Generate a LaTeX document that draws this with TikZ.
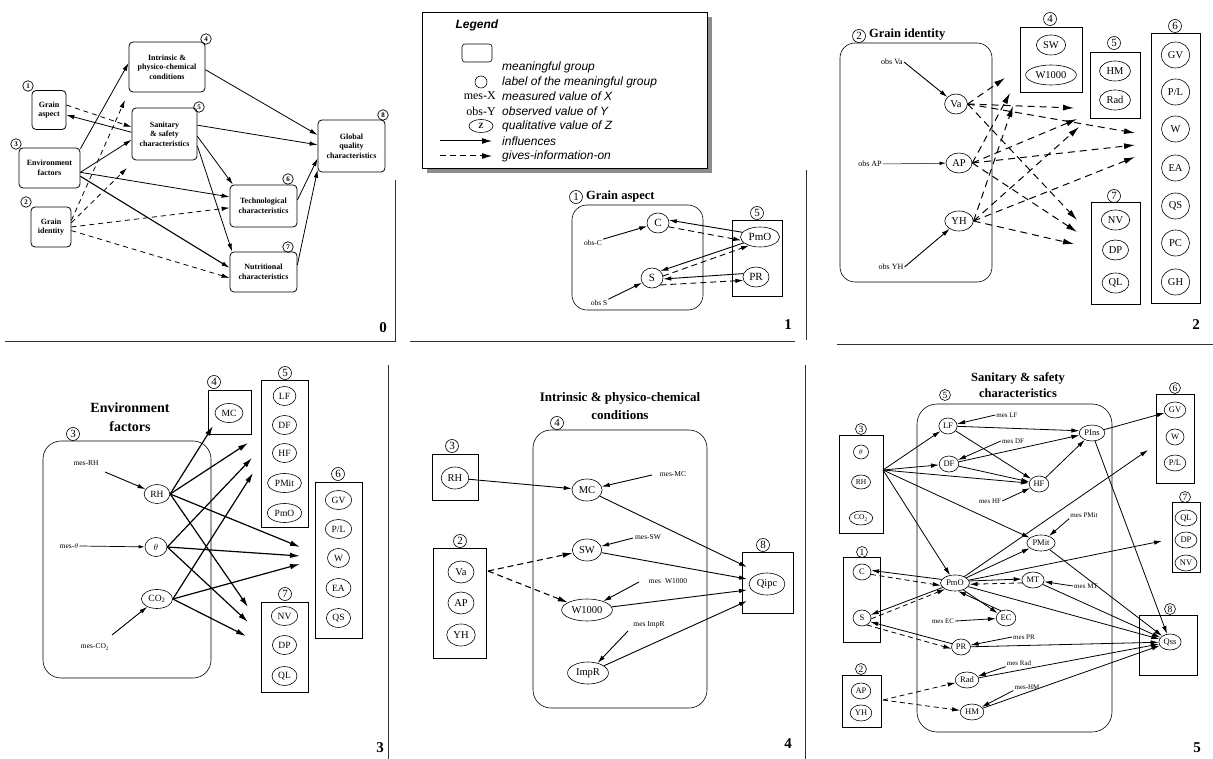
\documentclass[tikz,border=0pt]{standalone}
\usepackage{fontspec}
\setmainfont{Liberation Serif}
\newfontfamily\legfont{Liberation Sans}
\usetikzlibrary{shapes.geometric,arrows.meta,calc}
\tikzset{
  sep/.style={line width=1pt, black!80},
  pno/.style={font=\bfseries\fontsize{15}{15}\selectfont, inner sep=0pt},
  grp/.style={draw, line width=0.6pt, rounded corners=15pt, inner sep=0pt},
  bx/.style={draw, line width=0.6pt, inner sep=0pt},
  num/.style={circle, draw, line width=0.6pt, inner sep=0pt, minimum size=13pt, font=\fontsize{11}{11}\selectfont},
  snum/.style={num, minimum size=11pt, font=\fontsize{9.5}{10}\selectfont},
  val/.style={ellipse, draw, line width=0.6pt, inner xsep=2.5pt, inner ysep=0.5pt},
  v1/.style={val, minimum height=20pt, minimum width=22pt, font=\fontsize{11}{12}\selectfont},
  v2/.style={val, minimum height=20pt, minimum width=22pt, font=\fontsize{10.5}{11}\selectfont},
  v2b/.style={v2, minimum height=26pt, minimum width=28pt},
  v3/.style={val, minimum height=19pt, minimum width=22pt, font=\fontsize{9.5}{10}\selectfont},
  v4/.style={val, minimum height=22pt, minimum width=26pt, font=\fontsize{10.5}{11}\selectfont},
  v5/.style={val, minimum height=16pt, minimum width=18pt, font=\fontsize{8.5}{9}\selectfont, inner xsep=1.5pt},
  v5s/.style={v5, minimum height=14pt, minimum width=15pt, font=\fontsize{7.5}{8}\selectfont},
  mes/.style={font=\fontsize{7.5}{8}\selectfont, inner sep=1pt},
  ttl/.style={font=\bfseries\fontsize{12.5}{16}\selectfont, align=center, inner sep=0pt},
  p0box/.style={draw, rounded corners=4pt, line width=0.8pt, align=center, font=\bfseries\fontsize{8}{9.5}\selectfont, inner sep=0pt},
  p0num/.style={circle, draw, line width=0.7pt, inner sep=0pt, minimum size=10.5pt, font=\bfseries\fontsize{7}{7}\selectfont},
  inf/.style={line width=0.9pt, -{Latex[length=8pt,width=4.5pt]}},
  info/.style={inf, dash pattern=on 6pt off 4pt},
  inf0/.style={line width=0.8pt, -{Latex[length=8pt,width=4.5pt]}},
  info0/.style={inf0, dash pattern=on 5pt off 4pt},
  inf2/.style={line width=1pt, dash pattern=on 7pt off 5pt, -{Latex[length=11pt,width=6pt]}},
  inf3/.style={line width=1.2pt, -{Latex[length=10pt,width=5.5pt]}},
  inf5/.style={line width=0.8pt, -{Latex[length=8pt,width=4.5pt]}},
  info5/.style={inf5, dash pattern=on 5pt off 3.5pt},
  thin/.style={line width=0.5pt, -{Latex[length=6pt,width=3.5pt]}},
}
\begin{document}
\begin{tikzpicture}[x=1pt,y=-1pt]
\useasboundingbox (0,0) rectangle (1213,759);
\fill[white] (0,0) rectangle (1213,759);

% ---------- frame lines and panel numbers ----------
\draw[sep] (5,342) -- (395,342);
\draw[sep] (395,180) -- (395,342);
\draw[sep] (410,342) -- (795,342);
\draw[sep] (806,170) -- (806,340);
\draw[sep] (837,345) -- (1213,345);
\draw[sep] (388,365) -- (388,759);
\draw[sep] (805,365) -- (805,759);
\node[pno] (no0) at (383,328) {0};
\node[pno] (no1) at (788,325) {1};
\node[pno] (no2) at (1196,325) {2};
\node[pno] (no3) at (380,748) {3};
\node[pno] (no4) at (788,744) {4};
\node[pno] (no5) at (1197,748) {5};

% ---------- overview of the meaningful groups ----------
\node[p0box, minimum width=34pt, minimum height=39pt] (ga) at (49,110) {Grain\\aspect};
\node[p0box, minimum width=61pt, minimum height=40pt] (ef) at (49.5,168) {Environment\\factors};
\node[p0box, minimum width=40pt, minimum height=40pt] (gi) at (51,227) {Grain\\identity};
\node[p0box, minimum width=76pt, minimum height=50pt] (ipc) at (167,67) {Intrinsic \&\\physico-chemical\\conditions};
\node[p0box, minimum width=65pt, minimum height=52pt] (ss) at (164.5,134) {Sanitary\\\& safety\\characteristics};
\node[p0box, minimum width=67pt, minimum height=42pt] (tc) at (263.5,206) {Technological\\characteristics};
\node[p0box, minimum width=67pt, minimum height=40pt] (nc) at (263.5,272) {Nutritional\\characteristics};
\node[p0box, minimum width=67pt, minimum height=52pt] (gq) at (351.5,146) {Global\\quality\\characteristics};
\node[p0num] (g1) at (28,86) {1};
\node[p0num] (g3) at (16,144) {3};
\node[p0num] (g2) at (26,202) {2};
\node[p0num] (g4) at (206,39) {4};
\node[p0num] (g5) at (199,107) {5};
\node[p0num] (g6) at (288,179) {6};
\node[p0num] (g7) at (288,247) {7};
\node[p0num] (g8) at (383,115) {8};
\coordinate (gie1) at (125,100);
\coordinate (gie2) at (127,168);
\draw[inf0] (ef.32) -- (ipc.174);
\draw[inf0] (ef.-8) -- (ss.190);
\draw[inf0] (ss.177) -- (ga.-16);
\draw[inf0] (ef.-8) -- (tc.165);
\draw[inf0, line width=1.1pt] (ef.-15) -- (nc.173);
\draw[inf0] (ipc.-4) -- (gq.162);
\draw[inf0] (ss.15) -- (gq.178);
\draw[inf0] (ss.-4) -- (tc.145);
\draw[inf0] (ss.-20) -- (nc.147);
\draw[inf0] (tc.10) -- (gq.200);
\draw[inf0] (nc.12) -- (gq.215);
\draw[info0] (ga.16) -- (ss.168);
\draw[info0] (gi.18) -- (gie1);
\draw[info0] (gi.12) -- (gie2);
\draw[info0] (gi.0) -- (tc.183);
\draw[info0] (gi.-10) -- (nc.190);

% ---------- legend ----------
\fill[black!45] (427,17) rectangle (712,173);
\draw[fill=white, line width=0.6pt] (422,12) rectangle (707,168);
\node[anchor=west, font=\legfont\bfseries\itshape\fontsize{12}{12}\selectfont] (legt) at (452,25) {Legend};
\node[draw, rounded corners=3pt, line width=0.6pt, minimum width=30pt, minimum height=18pt] (legr) at (477,53) {};
\node[circle, draw, line width=0.6pt, minimum size=12pt, inner sep=0pt] (legc) at (481,82) {};
\node[anchor=east, font=\fontsize{12}{12}\selectfont, inner sep=0pt] (legm) at (496,96) {mes-X};
\node[anchor=east, font=\fontsize{12}{12}\selectfont, inner sep=0pt] (lego) at (496,111) {obs-Y};
\node[ellipse, draw, line width=0.6pt, minimum width=24pt, minimum height=13pt, inner sep=0pt, font=\bfseries\fontsize{8}{8}\selectfont] (legz) at (481,126) {Z};
\coordinate (lga) at (440,141);
\coordinate (lgb) at (492,141);
\coordinate (lgc) at (440,156);
\coordinate (lgd) at (492,156);
\draw[inf, line width=1pt, -{Latex[length=10pt,width=6pt]}] (lga) -- (lgb);
\draw[info, line width=1pt, -{Latex[length=10pt,width=6pt]}] (lgc) -- (lgd);
\begin{scope}[every node/.style={anchor=west, inner sep=0pt, font=\legfont\itshape\fontsize{12}{12}\selectfont}]
\node (l1) at (502,67) {meaningful group};
\node (l2) at (502,82) {label of the meaningful group};
\node (l3) at (502,96) {measured value of X};
\node (l4) at (502,111) {observed value of Y};
\node (l5) at (502,126) {qualitative value of Z};
\node (l6) at (502,141) {influences};
\node (l7) at (502,156) {gives-information-on};
\end{scope}

% ---------- 1: grain aspect ----------
\node[grp, minimum width=131pt, minimum height=105pt] (ag) at (637.5,257.5) {};
\node[num] (a1) at (576,197) {1};
\node[ttl, anchor=west] (at) at (586,196) {Grain aspect};
\node[bx, minimum width=50pt, minimum height=76pt] (ab5) at (757,258) {};
\node[num] (a5) at (757,213) {5};
\node[v1] (c1) at (658,223) {C};
\node[v1] (s1) at (652,278) {S};
\node[v1] (pmo1) at (760,237) {PmO};
\node[v1] (pr1) at (756,277) {PR};
\node[mes] (obsc) at (593,243) {obs-C};
\node[mes] (obss) at (599,303) {obs S};
\draw[inf] (obsc.north east) -- (c1);
\draw[inf] (obss.north east) -- (s1);
\draw[inf] (pmo1.165) -- (c1.15);
\draw[info] (c1.-20) -- (pmo1.190);
\draw[inf] (pmo1.200) -- (s1.40);
\draw[info] (s1.10) -- (pmo1.218);
\draw[inf] (pr1.165) -- (s1.-5);
\draw[info] (s1.-40) -- (pr1.195);

% ---------- 2: grain identity ----------
\node[grp, minimum width=152pt, minimum height=239pt] (bg) at (916,162.5) {};
\node[num] (b2) at (859,36) {2};
\node[ttl, anchor=west] (bt) at (869,35) {Grain identity};
\node[v2] (va2) at (956,104) {Va};
\node[v2] (ap2) at (959,163) {AP};
\node[v2] (yh2) at (959,221) {YH};
\node[mes, font=\fontsize{8}{9}\selectfont] (obva) at (892,62) {obs Va};
\node[mes, font=\fontsize{8}{9}\selectfont] (obap) at (870,164) {obs AP};
\node[mes, font=\fontsize{8}{9}\selectfont] (obyh) at (891,267) {obs YH};
\draw[inf] (obva.east) -- (va2);
\draw[thin] (obap.east) -- (ap2);
\draw[inf] (obyh.east) -- (yh2);
\node[bx, minimum width=62pt, minimum height=65pt] (bb4) at (1051,59.5) {};
\node[num] (b4) at (1050,19) {4};
\node[v2] (sw2) at (1051,45) {SW};
\node[v2] (w2) at (1051,75) {W1000};
\node[bx, minimum width=50pt, minimum height=66pt] (bb5) at (1115,85) {};
\node[num] (b5) at (1114,43) {5};
\node[v2] (hm2) at (1115,71) {HM};
\node[v2] (rad2) at (1115,100) {Rad};
\node[bx, minimum width=49pt, minimum height=270pt] (bb6) at (1175.5,168) {};
\node[num] (b6) at (1175,26) {6};
\node[v2b] (gv2) at (1175.5,55) {GV};
\node[v2b] (pl2) at (1175.5,92) {P/L};
\node[v2b] (ww2) at (1175.5,129) {W};
\node[v2b] (ea2) at (1175.5,168) {EA};
\node[v2b] (qs2) at (1175.5,206) {QS};
\node[v2b] (pc2) at (1175.5,243) {PC};
\node[v2b] (gh2) at (1175.5,282) {GH};
\node[bx, minimum width=49pt, minimum height=102pt] (bb7) at (1115.5,253) {};
\node[num] (b7) at (1114,196) {7};
\node[v2] (nv2) at (1115.5,220) {NV};
\node[v2] (dp2) at (1115.5,250) {DP};
\node[v2] (ql2) at (1115.5,283) {QL};
\coordinate (e4a) at (1005,78);
\coordinate (e4b) at (1010,93);
\coordinate (e4c) at (1013,106);
\coordinate (e5a) at (1074,108);
\coordinate (e5b) at (1077,119);
\coordinate (e5c) at (1079,127);
\coordinate (e6a) at (1135,133);
\coordinate (e6b) at (1135,145);
\coordinate (e6c) at (1135,157);
\coordinate (e7a) at (1077,220);
\coordinate (e7b) at (1077,232);
\coordinate (e7c) at (1074,244);
\foreach \s/\a/\b/\c/\d in {va2/e4a/e5a/e6a/e7a, ap2/e4b/e5b/e6b/e7b, yh2/e4c/e5c/e6c/e7c}{
  \draw[inf2] (\s.east) -- (\a);
  \draw[inf2] (\s.east) -- (\b);
  \draw[inf2] (\s.east) -- (\c);
  \draw[inf2] (\s.east) -- (\d);
}

% ---------- 3: environment factors ----------
\node[grp, rounded corners=18pt, minimum width=168pt, minimum height=237pt] (cg) at (127,559.5) {};
\node[num] (c3) at (73,434) {3};
\node[ttl, font=\bfseries\fontsize{14}{19}\selectfont] (ct) at (130,417) {Environment\\factors};
\node[v3] (rh3) at (157,494) {RH};
\node[v3] (th3) at (156,547) {$\theta$};
\node[v3] (co3) at (157,599) {CO\textsubscript{2}};
\node[mes] (mrh) at (86,463) {mes-RH};
\node[mes] (mth) at (69,546) {mes-$\theta$};
\node[mes] (mco) at (95,647) {mes-CO\textsubscript{2}};
\coordinate (mrhs) at (105,472);
\coordinate (mcos) at (112,635);
\draw[inf] (mrhs) -- (rh3);
\draw[thin, line width=0.7pt] (mth.east) -- (th3);
\draw[inf] (mcos) -- (co3);
\node[bx, minimum width=43pt, minimum height=44pt] (cb4) at (229.5,412) {};
\node[num] (c4) at (214,382) {4};
\node[v3] (mc3) at (229,413) {MC};
\node[bx, minimum width=47pt, minimum height=147pt] (cb5) at (284.5,453.5) {};
\node[num] (c5) at (285,373) {5};
\node[v3] (lf3) at (284.5,396) {LF};
\node[v3] (df3) at (284.5,425) {DF};
\node[v3] (hf3) at (284.5,453) {HF};
\node[v3] (pmit3) at (284.5,483) {PMit};
\node[v3] (pmo3) at (284.5,513) {PmO};
\node[bx, minimum width=47pt, minimum height=156pt] (cb6) at (338.5,560) {};
\node[num] (c6) at (338,474) {6};
\node[v3] (gv3) at (338.5,500) {GV};
\node[v3] (pl3) at (338.5,529) {P/L};
\node[v3] (w3) at (338.5,558) {W};
\node[v3] (ea3) at (338.5,588) {EA};
\node[v3] (qs3) at (338.5,618) {QS};
\node[bx, minimum width=47pt, minimum height=90pt] (cb7) at (284.5,647) {};
\node[num] (c7) at (285,594) {7};
\node[v3] (nv3) at (284.5,616) {NV};
\node[v3] (dp3) at (284.5,645) {DP};
\node[v3] (ql3) at (284.5,676) {QL};
\coordinate (f4) at (213,426);
\coordinate (f5a) at (248,443);
\coordinate (f5b) at (252,458);
\coordinate (f5c) at (253,473);
\coordinate (f6a) at (300,547);
\coordinate (f6b) at (300,556);
\coordinate (f6c) at (300,564);
\coordinate (f7a) at (248,607);
\coordinate (f7b) at (248,622);
\coordinate (f7c) at (246,636);
\draw[inf3] (rh3.east) -- (f4);
\draw[inf3] (rh3.east) -- (f5a);
\draw[inf3] (th3.east) -- (f5b);
\draw[inf3] (co3.east) -- (f5c);
\draw[inf3] (rh3.east) -- (f6a);
\draw[inf3] (th3.east) -- (f6b);
\draw[inf3] (co3.east) -- (f6c);
\draw[inf3] (rh3.east) -- (f7a);
\draw[inf3] (th3.east) -- (f7b);
\draw[inf3] (co3.east) -- (f7c);

% ---------- 4: intrinsic & physico-chemical conditions ----------
\node[grp, rounded corners=18pt, minimum width=174pt, minimum height=278pt] (dg) at (620,569) {};
\node[num] (d4) at (557,423) {4};
\node[ttl, font=\bfseries\fontsize{13}{18}\selectfont] (dt) at (620,406) {Intrinsic \& physico-chemical\\conditions};
\node[v4] (mc4) at (587,490) {MC};
\node[v4] (sw4) at (587,550) {SW};
\node[v4] (w4) at (587,610) {W1000};
\node[v4] (imp4) at (588,673) {ImpR};
\node[mes] (mmc) at (673,474) {mes-MC};
\node[mes] (msw) at (648,537) {mes-SW};
\node[mes] (mw) at (668,581) {mes\hspace{4pt}W1000};
\node[mes] (mimp) at (649,625) {mes ImpR};
\coordinate (mmcs) at (652,475);
\coordinate (msws) at (633,538);
\coordinate (mws) at (639,582);
\coordinate (mimps) at (628,631);
\draw[inf] (mmcs) -- (mc4);
\draw[inf] (msws) -- (sw4);
\draw[inf] (mws) -- (w4);
\draw[inf] (mimps) -- (imp4);
\node[bx, minimum width=46pt, minimum height=46pt] (db3) at (455,477) {};
\node[num] (d3) at (452,446) {3};
\node[v4] (rh4) at (455,478) {RH};
\node[bx, minimum width=53pt, minimum height=110pt] (db2) at (459.5,603) {};
\node[num] (d2) at (460,541) {2};
\node[v4] (va4) at (461,572) {Va};
\node[v4] (ap4) at (461,603) {AP};
\node[v4] (yh4) at (461,635) {YH};
\node[bx, minimum width=51pt, minimum height=61pt] (db8) at (767.5,582.5) {};
\node[num] (d8) at (763,545) {8};
\node[v4] (q4) at (767,584) {Qipc};
\coordinate (qa) at (747,567);
\coordinate (qb) at (747,579);
\coordinate (qc) at (747,590);
\coordinate (qd) at (747,601);
\coordinate (vao) at (488,571);
\draw[inf] (rh4) -- (mc4);
\draw[inf] (mc4) -- (qa);
\draw[inf] (sw4) -- (qb);
\draw[inf] (w4) -- (qc);
\draw[inf] (imp4) -- (qd);
\draw[info, line width=1.1pt, -{Latex[length=10pt,width=5.5pt]}] (vao) -- (sw4);
\draw[info, line width=1.1pt, -{Latex[length=10pt,width=5.5pt]}] (vao) -- (w4);

% ---------- 5: sanitary & safety characteristics ----------
\node[grp, rounded corners=20pt, minimum width=195pt, minimum height=328pt] (eg) at (1014.5,568) {};
\node[snum] (e5) at (945,395) {5};
\node[ttl, font=\bfseries\fontsize{12.5}{16}\selectfont] (et) at (1018,385) {Sanitary \& safety\\characteristics};
\node[bx, minimum width=44pt, minimum height=98pt] (eb3) at (861,484) {};
\node[snum] (e3) at (861,429) {3};
\node[v5s] (th5) at (861,452) {$\theta$};
\node[v5s] (rh5) at (861,482) {RH};
\node[v5s] (co5) at (861,518) {CO\textsubscript{2}};
\node[bx, minimum width=37pt, minimum height=85pt] (eb1) at (861.5,599.5) {};
\node[snum] (e1) at (862,552) {1};
\node[v5] (c5) at (862,572) {C};
\node[v5] (s5) at (862,618) {S};
\node[bx, minimum width=39pt, minimum height=52pt] (eb2) at (861.5,701) {};
\node[snum] (e2) at (861,669) {2};
\node[v5] (ap5) at (861,691) {AP};
\node[v5] (yh5) at (861,713) {YH};
\node[v5] (lf5) at (948,426) {LF};
\node[v5] (df5) at (949,464) {DF};
\node[v5] (hf5) at (1039,484) {HF};
\node[v5] (pins5) at (1092,433) {PIns};
\node[v5] (pmit5) at (1041,543) {PMit};
\node[v5] (pmo5) at (955,583) {PmO};
\node[v5] (mt5) at (1033,580) {MT};
\node[v5] (ec5) at (1006,618) {EC};
\node[v5] (pr5) at (961,647) {PR};
\node[v5] (rad5) at (967,680) {Rad};
\node[v5] (hm5) at (972,712) {HM};
\node[bx, minimum width=38pt, minimum height=89pt] (eb6) at (1175,438.5) {};
\node[snum] (e6) at (1175,388) {6};
\node[v5] (gv5) at (1175,410) {GV};
\node[v5] (w5) at (1175,437) {W};
\node[v5] (pl5) at (1175,463) {P/L};
\node[bx, minimum width=28pt, minimum height=70pt] (eb7) at (1186,537) {};
\node[snum] (e7) at (1185,497) {7};
\node[v5, minimum width=22pt] (ql5) at (1186,518) {QL};
\node[v5, minimum width=22pt] (dp5) at (1186,540) {DP};
\node[v5, minimum width=22pt] (nv5) at (1186,563) {NV};
\node[bx, minimum width=58pt, minimum height=60pt] (eb8) at (1168,645) {};
\node[snum] (e8) at (1170,609) {8};
\node[v5] (qss5) at (1170,642) {Qss};
\begin{scope}[every node/.style={mes, font=\fontsize{7}{8}\selectfont}]
\node (mlf) at (1007,415) {mes LF};
\node (mdf) at (1013,441) {mes DF};
\node (mhf) at (990,501) {mes HF};
\node (mpmit) at (1084,515) {mes PMit};
\node (mmt) at (1086,586) {mes MT};
\node (mec) at (943,621) {mes EC};
\node (mpr) at (1024,637) {mes PR};
\node (mrad) at (1019,663) {mes Rad};
\node (mhm) at (1027,687) {mes-HM};
\end{scope}
\draw[inf5] (mlf.west) -- (lf5);
\draw[inf5] (mdf.west) -- (df5);
\draw[inf5] (mhf.east) -- (hf5);
\draw[inf5] (mpmit.south west) -- (pmit5);
\draw[inf5] (mmt.west) -- (mt5);
\draw[inf5] (mec.east) -- (ec5);
\draw[inf5] (mpr.west) -- (pr5);
\draw[inf5] (mrad.south west) -- (rad5);
\draw[inf5] (mhm.south west) -- (hm5);
\coordinate (e3o) at (883,470);
\coordinate (e2o) at (883,700);
\coordinate (e6e) at (1148,450);
\coordinate (e7e) at (1162,541);
\draw[inf5] (e3o) -- (lf5);
\draw[inf5] (e3o) -- (df5);
\draw[inf5] (e3o) -- (hf5);
\draw[inf5] (e3o) -- (pmit5);
\draw[inf5] (e3o) -- (pmo5);
\draw[inf5] (lf5) -- (pins5.170);
\draw[inf5] (lf5) -- (hf5);
\draw[inf5] (df5) -- (pins5.190);
\draw[inf5] (df5) -- (hf5);
\draw[inf5] (hf5) -- (pins5);
\draw[inf5] (pins5) -- (gv5);
\draw[inf5] (pins5) -- (qss5);
\draw[inf5] (pmo5) -- (e6e);
\draw[inf5] (pmo5) -- (pmit5);
\draw[inf5] (pmo5) -- (e7e);
\draw[inf5] (pmo5.8) -- (mt5.175);
\draw[info5] (mt5.195) -- (pmo5.-5);
\draw[inf5] (pmo5.-40) -- (ec5.150);
\draw[inf5] (ec5.125) -- (pmo5.-70);
\draw[inf5] (pmo5) -- (qss5);
\draw[inf5] (pmo5.165) -- (c5.10);
\draw[info5] (c5.-15) -- (pmo5.190);
\draw[inf5] (pmo5.200) -- (s5.20);
\draw[info5] (s5.-5) -- (pmo5.212);
\draw[inf5] (pr5.160) -- (s5.-25);
\draw[info5] (s5.-55) -- (pr5.190);
\draw[inf5] (pr5) -- (qss5);
\draw[inf5] (rad5) -- (qss5);
\draw[inf5] (hm5) -- (qss5);
\draw[inf5] (mt5) -- (qss5);
\draw[inf5] (pmit5) -- (qss5);
\draw[info5] (e2o) -- (rad5);
\draw[info5] (e2o) -- (hm5);
\end{tikzpicture}
\end{document}
